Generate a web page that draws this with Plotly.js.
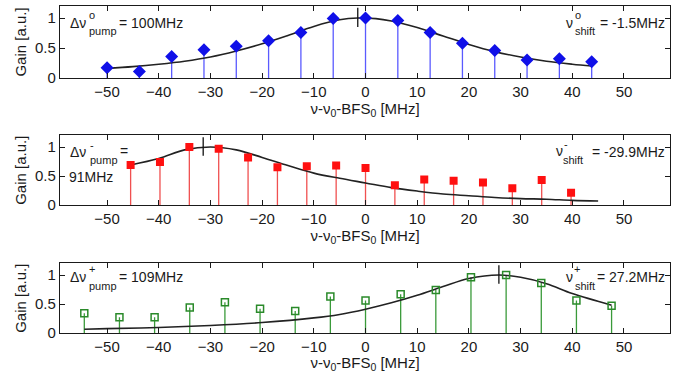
<!DOCTYPE html>
<html><head><meta charset="utf-8">
<script src="https://cdn.plot.ly/plotly-3.0.1.min.js"></script>
<style>html,body{margin:0;padding:0;background:#fff}#chart{width:680px;height:373px}</style>
</head><body><div id="chart"></div>
<script>
// ---- data ----
const blueX = [-50, -43.75, -37.5, -31.25, -25, -18.75, -12.5, -6.25, 0, 6.25, 12.5, 18.75, 25, 31.25, 37.5, 43.75];
const blueY = [0.17, 0.11, 0.36, 0.47, 0.53, 0.62, 0.76, 0.99, 1.0, 0.96, 0.76, 0.58, 0.46, 0.30, 0.32, 0.27];
const blueCurveX = [-50, -45, -40, -35, -30, -25, -20, -15, -10, -5, -1.5, 2, 5, 10, 15, 20, 25, 30, 35, 40, 43.75];
const blueCurveY = [0.16, 0.19, 0.23, 0.28, 0.35, 0.45, 0.57, 0.71, 0.86, 0.97, 1.0, 0.99, 0.95, 0.84, 0.70, 0.56, 0.44, 0.35, 0.28, 0.23, 0.20];

const redX = [-45.44, -39.76, -34.08, -28.4, -22.72, -17.04, -11.36, -5.68, 0, 5.68, 11.36, 17.04, 22.72, 28.4, 34.08, 39.76];
const redY = [0.69, 0.74, 1.0, 0.97, 0.82, 0.65, 0.67, 0.68, 0.64, 0.34, 0.44, 0.42, 0.39, 0.29, 0.43, 0.21];
const redCurveX = [-45.44, -40, -35, -30, -25, -20, -15, -10, -5, 0, 5, 10, 15, 20, 25, 30, 35, 40, 45];
const redCurveY = [0.69, 0.80, 0.95, 1.0, 0.95, 0.82, 0.68, 0.55, 0.46, 0.38, 0.30, 0.24, 0.19, 0.16, 0.13, 0.11, 0.10, 0.08, 0.07];

const greenX = [-54.4, -47.6, -40.8, -34, -27.2, -20.4, -13.6, -6.8, 0, 6.8, 13.6, 20.4, 27.2, 34, 40.8, 47.6];
const greenY = [0.34, 0.27, 0.27, 0.44, 0.53, 0.42, 0.38, 0.63, 0.56, 0.67, 0.74, 0.96, 1.0, 0.86, 0.56, 0.47];
const greenCurveX = [-54.4, -50, -40, -30, -20, -10, -5, 0, 5, 10, 15, 20, 25.8, 30, 35, 40, 47.6];
const greenCurveY = [0.065, 0.075, 0.095, 0.13, 0.18, 0.26, 0.32, 0.41, 0.52, 0.65, 0.80, 0.94, 1.0, 0.96, 0.85, 0.68, 0.48];

const peakX = [-1.5, -31.4, 25.8];
const xTicks = [-50, -40, -30, -20, -10, 0, 10, 20, 30, 40, 50];
const yTicks = [0, 0.5, 1];
const yTickText = ['0', '0.5', '1'];

// ---- build ----
const FONT = 'Liberation Sans, Arial, sans-serif';
const INK = '#1a1a1a';
const W = 680, H = 373;

function stems(xs, ys) {
  const sx = [], sy = [];
  xs.forEach((x, i) => { sx.push(x, x, null); sy.push(0, ys[i], null); });
  return {x: sx, y: sy};
}

const panels = [
  {x: blueX, y: blueY, cx: blueCurveX, cy: blueCurveY, stem: '#5a5aff', mk: {symbol: 'diamond', size: 10, color: '#1010e8'}},
  {x: redX, y: redY, cx: redCurveX, cy: redCurveY, stem: '#f05050', mk: {symbol: 'square', size: 8, color: '#ff1010'}},
  {x: greenX, y: greenY, cx: greenCurveX, cy: greenCurveY, stem: '#3a9a3a', mk: {symbol: 'square-open', size: 7, color: '#2a8a2a', line: {width: 1.5, color: '#2a8a2a'}}}
];

const traces = [];
const shapes = [];
panels.forEach((p, i) => {
  const xa = i === 0 ? 'x' : 'x' + (i + 1);
  const ya = i === 0 ? 'y' : 'y' + (i + 1);
  const s = stems(p.x, p.y);
  traces.push({x: s.x, y: s.y, xaxis: xa, yaxis: ya, mode: 'lines', line: {color: p.stem, width: 1.3}, hoverinfo: 'skip', showlegend: false});
  traces.push({x: p.cx, y: p.cy, xaxis: xa, yaxis: ya, mode: 'lines', line: {color: '#222', width: 1.6, shape: 'spline', smoothing: 1}, showlegend: false});
  traces.push({x: p.x, y: p.y, xaxis: xa, yaxis: ya, mode: 'markers', marker: p.mk, showlegend: false});
  shapes.push({type: 'line', xref: xa, yref: ya, x0: peakX[i], x1: peakX[i], y0: 0.85, y1: 1.17, line: {color: '#111', width: 1.3}});
});

const xDom = [60 / W, 670 / W];
const yDoms = [[1 - 78 / H, 1 - 6 / H], [1 - 205 / H, 1 - 135.4 / H], [1 - 333 / H, 1 - 263.4 / H]];

function xAxis(dom, anchor) {
  return {domain: dom, anchor: anchor, range: [-59.1, 58.9], tickmode: 'array', tickvals: xTicks,
    ticks: 'inside', ticklen: 5, tickwidth: 1, tickcolor: INK, showline: true, linecolor: INK, linewidth: 1.2,
    mirror: 'ticks', showgrid: false, zeroline: false,
    tickfont: {family: FONT, size: 15, color: INK},
    title: {text: 'ν-ν<sub>0</sub>-BFS<sub>0</sub> [MHz]', font: {family: FONT, size: 15, color: INK}, standoff: 3}};
}
function yAxis(dom, anchor) {
  return {domain: dom, anchor: anchor, range: [0, 1.2], tickmode: 'array', tickvals: yTicks, ticktext: yTickText,
    ticks: 'inside', ticklen: 5, tickwidth: 1, tickcolor: INK, showline: true, linecolor: INK, linewidth: 1.2,
    mirror: 'ticks', showgrid: false, zeroline: false,
    tickfont: {family: FONT, size: 15, color: INK},
    title: {text: 'Gain [a.u.]', font: {family: FONT, size: 15, color: INK}, standoff: 4}};
}

function ann(px, py, text, size, anchor) {
  return {xref: 'paper', yref: 'paper', x: px / W, y: 1 - py / H, text: text, showarrow: false,
    xanchor: anchor || 'left', yanchor: 'middle', font: {family: FONT, size: size, color: INK}};
}
const BIG = 14, SMALL = 11;
const annotations = [
  // panel 1
  ann(68, 23, 'Δν', BIG), ann(87, 15, 'o', SMALL), ann(87, 31, 'pump', SMALL), ann(117, 23, '= 100MHz', BIG),
  ann(564, 23, 'ν', BIG), ann(573, 15, 'o', SMALL), ann(573, 31, 'shift', SMALL), ann(667, 23, '= -1.5MHz', BIG, 'right'),
  // panel 2
  ann(68, 152, 'Δν', BIG), ann(88, 145, '-', SMALL), ann(88, 160, 'pump', SMALL), ann(118, 151, '=', BIG),
  ann(67, 177, '91MHz', BIG),
  ann(554, 151, 'ν', BIG), ann(562, 144, '-', SMALL), ann(561, 160, 'shift', SMALL), ann(667, 152, '= -29.9MHz', BIG, 'right'),
  // panel 3
  ann(68, 277, 'Δν', BIG), ann(87, 269, '+', SMALL), ann(87, 286, 'pump', SMALL), ann(117, 277, '= 109MHz', BIG),
  ann(564, 277, 'ν', BIG), ann(572, 269, '+', SMALL), ann(573, 286, 'shift', SMALL), ann(667, 277, '= 27.2MHz', BIG, 'right')
];

const layout = {
  width: W, height: H, margin: {l: 0, r: 0, t: 0, b: 0},
  paper_bgcolor: '#fff', plot_bgcolor: '#fff', showlegend: false,
  font: {family: FONT, color: INK},
  xaxis: xAxis(xDom, 'y'), yaxis: yAxis(yDoms[0], 'x'),
  xaxis2: xAxis(xDom, 'y2'), yaxis2: yAxis(yDoms[1], 'x2'),
  xaxis3: xAxis(xDom, 'y3'), yaxis3: yAxis(yDoms[2], 'x3'),
  shapes: shapes, annotations: annotations
};

Plotly.newPlot('chart', traces, layout, {staticPlot: true, displayModeBar: false});
</script></body></html>
